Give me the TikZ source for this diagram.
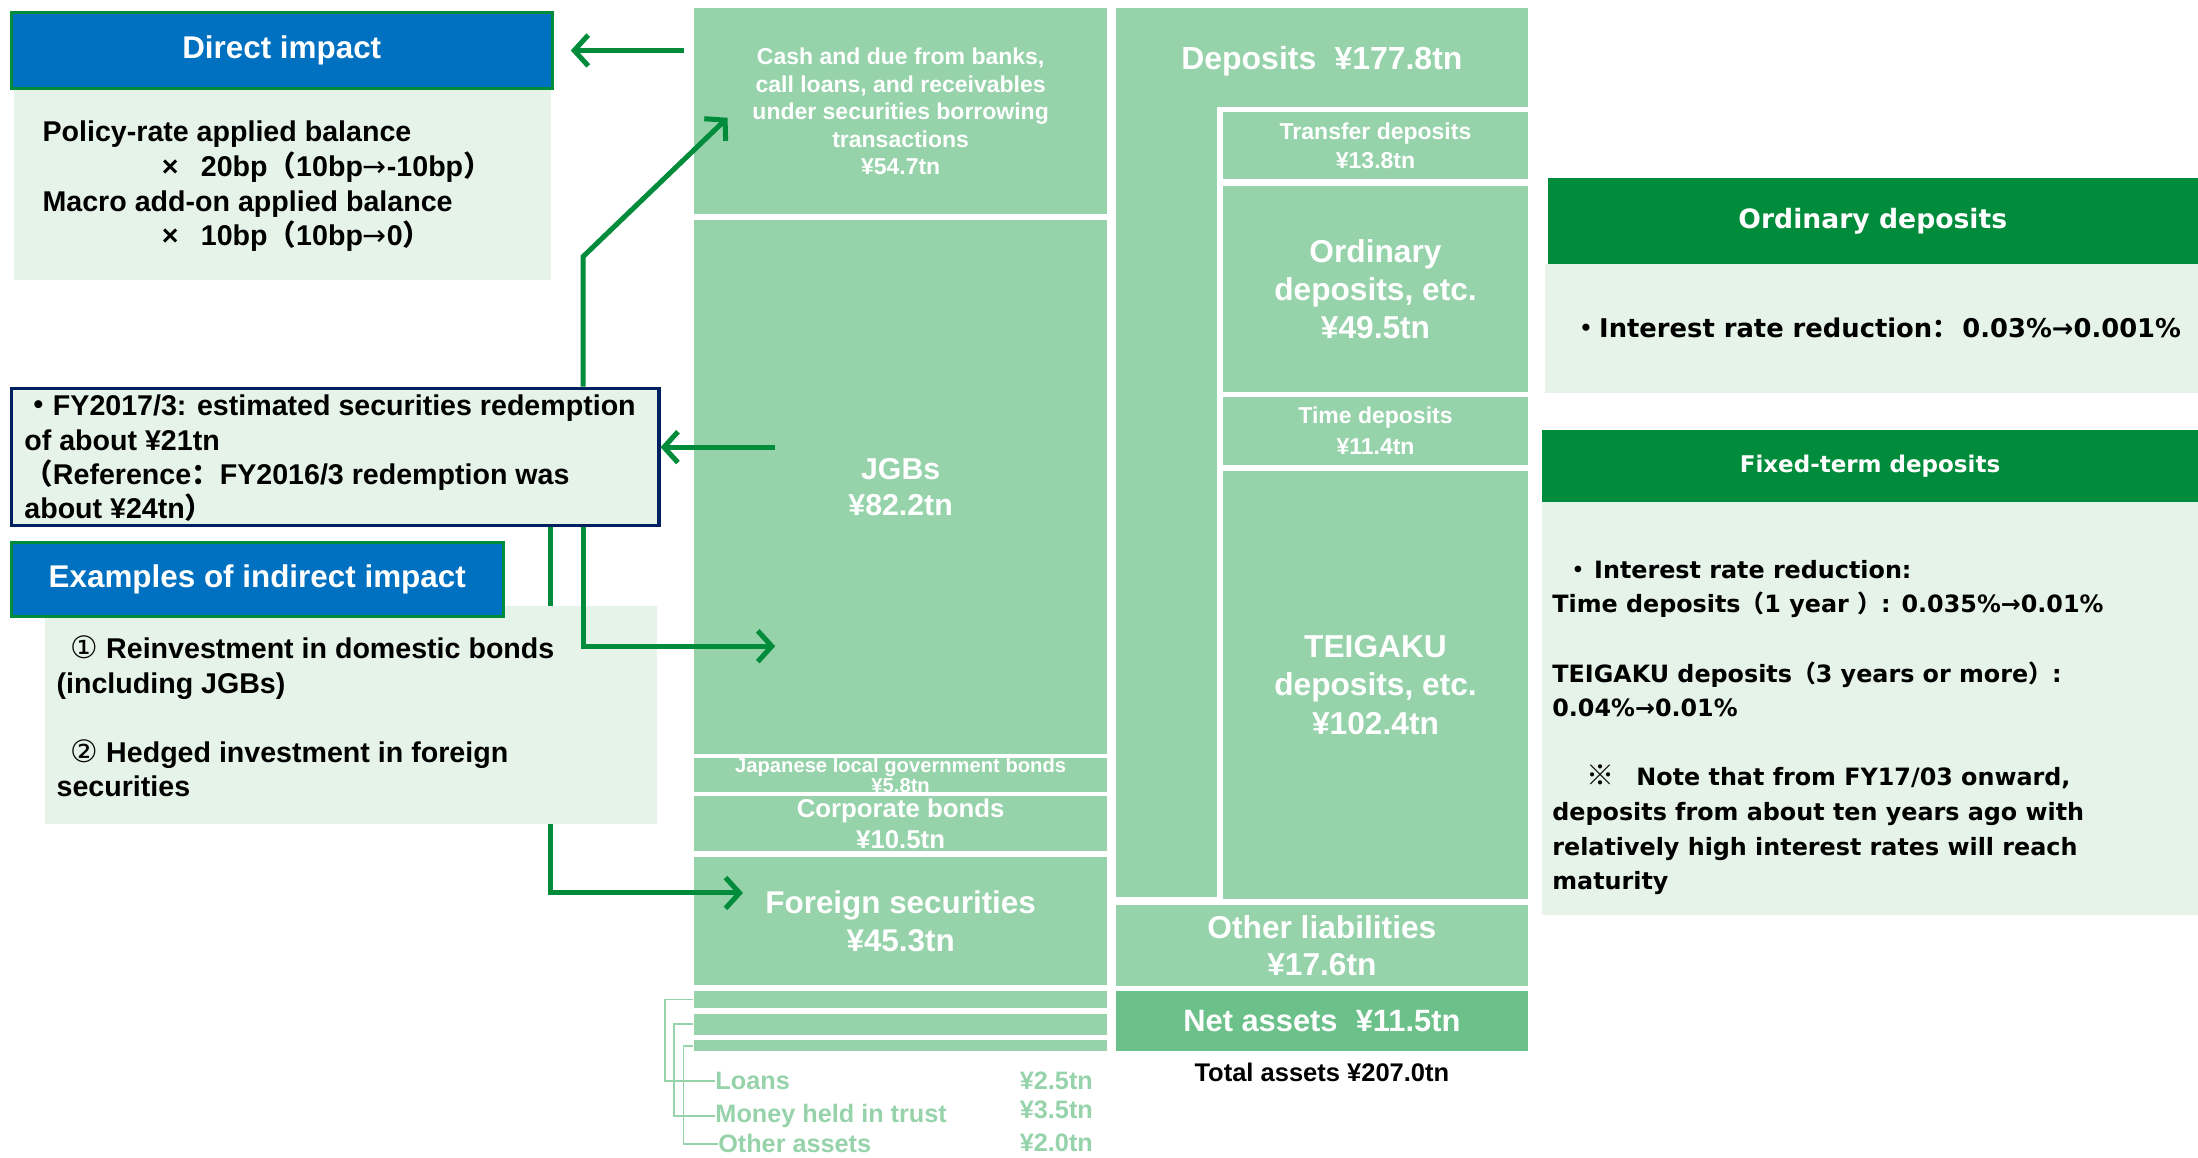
\documentclass[tikz,border=0pt]{standalone}
\usepackage{fontspec}
\setmainfont{Liberation Sans}
\newfontfamily\dvs{DejaVu Sans}
\newfontfamily\cjk{Noto Sans CJK SC}
\usetikzlibrary{arrows.meta}
\definecolor{boxg}{RGB}{150,210,170}
\definecolor{netg}{RGB}{108,192,138}
\definecolor{paleg}{RGB}{230,243,233}
\definecolor{darkg}{RGB}{0,140,58}
\definecolor{hblue}{RGB}{0,112,192}
\definecolor{navy}{RGB}{0,32,96}
\newcommand\fs[2]{\fontsize{#1}{#2}\selectfont}
\newcommand\rarr{{\dvs\mdseries →}}
\begin{document}
\begin{tikzpicture}[x=.5pt,y=-.5pt,
  asset/.style={fill=boxg,text=white,font=\bfseries,align=center,inner sep=0pt},
  inbox/.style={asset,draw=white,line width=2pt,minimum width=110.75pt},
  panel/.style={fill=paleg,inner sep=0pt},
  head/.style={fill=hblue,draw=darkg,line width=1.2pt,text=white,inner sep=0pt,font=\bfseries\fs{11.2}{13}},
  ghead/.style={fill=darkg,text=white,inner sep=0pt},
  txt/.style={align=left,inner sep=0pt,anchor=west},
  flow/.style={draw=darkg,line width=1.8pt,-{Straight Barb[length=5pt,width=11pt]}},
  leader/.style={draw=boxg,line width=.6pt},
  small/.style={text=boxg,font=\bfseries\fs{9}{10},inner sep=0pt}]
\useasboundingbox (0,0) rectangle (1568,826);

% assets
\node[asset,minimum width=147.5pt,minimum height=73.5pt,font=\bfseries\fs{8.2}{9.85}] (cash) at (642.5,79.5) {Cash and due from banks,\\call loans, and receivables\\under securities borrowing\\transactions\\¥54.7tn};
\node[asset,minimum width=147.5pt,minimum height=190.5pt,font=\bfseries\fs{10.8}{13}] (jgb) at (642.5,347.5) {JGBs\\¥82.2tn};
\node[asset,minimum width=147.5pt,minimum height=12pt,font=\bfseries\fs{7.2}{7}] (local) at (642.5,553) {Japanese local government bonds\\¥5.8tn};
\node[asset,minimum width=147.5pt,minimum height=19.5pt,font=\bfseries\fs{9.2}{11}] (corp) at (642.5,587.5) {Corporate bonds\\¥10.5tn};
\node[asset,minimum width=147.5pt,minimum height=46pt,font=\bfseries\fs{11.2}{13.5}] (foreign) at (642.5,657) {Foreign securities\\¥45.3tn};
\node[asset,minimum width=147.5pt,minimum height=6pt] (loans) at (642.5,713) {};
\node[asset,minimum width=147.5pt,minimum height=7.5pt] (trust) at (642.5,730.5) {};
\node[asset,minimum width=147.5pt,minimum height=4pt] (other) at (642.5,746) {};

% liabilities
\node[asset,minimum width=147pt,minimum height=317pt] (dep) at (943,323) {};
\node[text=white,font=\bfseries\fs{11.4}{13},inner sep=0pt] (deplbl) at (943,44) {Deposits\hspace{6.5pt}¥177.8tn};
\node[inbox,minimum height=26pt,font=\bfseries\fs{8.2}{10}] (transfer) at (981.25,104) {Transfer deposits\\¥13.8tn};
\node[inbox,minimum height=75.5pt,font=\bfseries\fs{11.3}{13.5}] (ordinary) at (981.25,206.5) {Ordinary\\deposits, etc.\\¥49.5tn};
\node[inbox,minimum height=26pt,font=\bfseries\fs{8.2}{11}] (time) at (981.25,307.5) {Time deposits\\¥11.4tn};
\node[inbox,minimum height=154.5pt,font=\bfseries\fs{11.3}{13.75}] (teigaku) at (981.25,488.5) {TEIGAKU\\deposits, etc.\\¥102.4tn};
\node[asset,minimum width=147pt,minimum height=29pt,font=\bfseries\fs{11.3}{13}] (otherliab) at (943,674.5) {Other liabilities\\¥17.6tn};
\node[asset,fill=netg,minimum width=147pt,minimum height=21.5pt,font=\bfseries\fs{11}{13}] (net) at (943,728.5) {Net assets\hspace{6.5pt}¥11.5tn};
\node[font=\bfseries\fs{9.1}{11},inner sep=0pt] (total) at (943,765) {Total assets ¥207.0tn};

% small items
\node[small,anchor=west] (loanl) at (510,771) {Loans};
\node[small,anchor=west] (trustl) at (510,796) {Money held in trust};
\node[small,anchor=west] (otherl) at (512,816) {Other assets};
\node[small,anchor=east] (loanv) at (780,771) {¥2.5tn};
\node[small,anchor=east] (trustv) at (780,792) {¥3.5tn};
\node[small,anchor=east] (otherv) at (780,815) {¥2.0tn};
\draw[leader] (loans.west) -- ++(-20,0) |- (loanl.west);
\draw[leader] (trust.west) -- ++(-14,0) |- (trustl.west);
\draw[leader] (other.west) -- ++(-7,0) |- (otherl.west);

\coordinate (bendup) at (416,183);
\coordinate (cashin) at (519,84);
\coordinate (bendjgb) at (416,461);
\coordinate (jgbin) at (553,461);
\coordinate (jgbout) at (553,319);
\coordinate (bendfor) at (393,637);
\coordinate (forin) at (530,637);

% left panels
\node[draw=navy,line width=1.2pt,fill=paleg,minimum width=231pt,minimum height=49pt,inner sep=0pt] (redeem) at (239,326) {};
\draw[flow] (redeem.south -| bendfor) -- (bendfor) -- (forin); %foreign
\node[panel,minimum width=191.5pt,minimum height=68.5pt] (dbody) at (201.5,131.5) {};
\node[panel,minimum width=218.5pt,minimum height=78pt] (ebody) at (250.5,510) {};
\draw[flow] (redeem.south -| bendjgb) -- (bendjgb) -- (jgbin); %jgb
\node[head,minimum width=193pt,minimum height=27pt] (direct) at (201,36) {\raisebox{-1pt}{Direct impact}};
\node[head,minimum width=175.5pt,minimum height=26.5pt] (indirect) at (183.5,413.5) {\raisebox{-1pt}{Examples of indirect impact}};
\node[txt,font=\bfseries\fs{10.2}{12.35}] (dtxt) at (30,133) {Policy-rate applied balance\\\hspace*{42.5pt}×\hspace{8pt}20bp{\cjk （}10bp\rarr-10bp{\cjk ）}\\Macro add-on applied balance\\\hspace*{42.5pt}×\hspace{8pt}10bp{\cjk （}10bp\rarr0{\cjk ）}};
\node[txt,font=\bfseries\fs{10.2}{12.25}] (rtxt) at (17,327) {{\cjk ・}FY2017/3: estimated securities redemption\\of about ¥21tn\\{\cjk （}Reference{\cjk ：}FY2016/3 redemption was\\about ¥24tn{\cjk ）}};
\node[txt,font=\bfseries\fs{10.2}{12.3}] (etxt) at (40,511) {\hspace*{5pt}{\dvs\mdseries\fs{11}{12.3}①} Reinvestment in domestic bonds\\(including JGBs)\\[12.3pt]\hspace*{5pt}{\dvs\mdseries\fs{11}{12.3}②} Hedged investment in foreign\\securities};

\draw[flow,shorten <=3.5pt,shorten >=6pt] (cash.west |- direct.east) -- (direct.east); %direct
\draw[flow] (jgbout) -- (jgbout -| redeem.east); %redemption
\draw[flow] (redeem.north -| bendup) -- (bendup) -- (cashin); %cash

% right panels
\node[ghead,minimum width=232pt,minimum height=30.5pt,font=\dvs\bfseries\fs{9.5}{11}] (ordh) at (1336,157.5) {Ordinary deposits};
\node[panel,minimum width=233pt,minimum height=46pt] (ordb) at (1335,234) {};
\node[txt,font=\dvs\bfseries\fs{9.2}{11}] (otxt) at (1122,234) {{\cjk ・}Interest rate reduction{\cjk ：}\,0.03\%→0.001\%};
\node[ghead,minimum width=234pt,minimum height=25.5pt,font=\dvs\bfseries\fs{8.2}{10}] (fixh) at (1334,332.5) {Fixed-term deposits};
\node[panel,minimum width=234pt,minimum height=147.5pt] (fixb) at (1334,505.5) {};
\node[txt,font=\dvs\bfseries\fs{8.5}{12.35}] (ftxt) at (1107,519) {\hspace*{5pt}{\cjk ・}\,Interest rate reduction:\\Time deposits{\cjk （}1 year {\cjk ）}: 0.035\%→0.01\%\\[12.35pt]TEIGAKU deposits{\cjk （}3 years or more{\cjk ）}:\\0.04\%→0.01\%\\[12.35pt]\hspace*{12pt}{\cjk\fs{10}{12.35}※}\hspace{8pt}Note that from FY17/03 onward,\\deposits from about ten years ago with\\relatively high interest rates will reach\\maturity};
\end{tikzpicture}
\end{document}
